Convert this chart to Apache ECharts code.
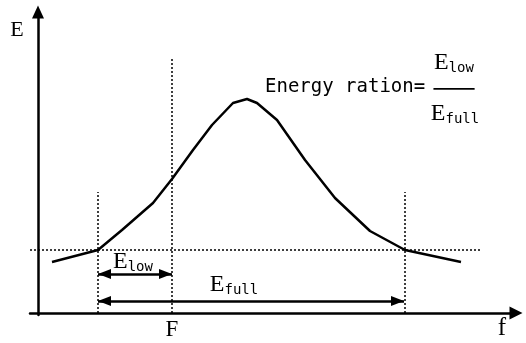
<!DOCTYPE html>
<html>
<head>
<meta charset="utf-8">
<script src="https://cdn.jsdelivr.net/npm/echarts@6/dist/echarts.min.js"></script>
<style>
html,body{margin:0;padding:0;background:#fff}
#main{width:526px;height:343px}
</style>
</head>
<body>
<div id="main"></div>
<script>
// energy spectrum, arbitrary units (x = frequency, y = energy)
const freq = [14, 60, 84, 115, 134, 155, 174, 195, 209, 219, 239, 267, 297, 332, 367, 423]
const energy = [51, 63, 83, 110, 134, 163, 188, 210, 214, 210, 193, 153, 115, 82, 63, 51]

// dotted guides: cut frequencies and how high each guide goes
const guideX = [60, 134, 367]
const guideTop = [121, 256, 121]
const level = 63          // energy level of the horizontal guide
const levelRange = [-8, 442]

const cutF = 134          // "F"
// arrows: [from, to, height]
const lowSpan = [60, 134, 39]
const fullSpan = [60, 366, 12]

const black = '#000'
const serif = 'Liberation Serif'
const mono = 'DejaVu Sans Mono'

let chartDom = document.getElementById('main')
let myChart = echarts.init(chartDom)

const dotted = { color: black, width: 1.5, type: [2, 2] }

let guideSeries = guideX.map((x, i) => ({
  type: 'line',
  silent: true,
  symbol: 'none',
  data: [[x, 0], [x, guideTop[i]]],
  lineStyle: dotted,
  z: 1
}))
guideSeries.push({
  type: 'line',
  silent: true,
  symbol: 'none',
  data: [[levelRange[0], level], [levelRange[1], level]],
  lineStyle: dotted,
  z: 1
})

const eLabel = (sub, x, y) => ({
  type: 'text',
  x: x, y: y,
  style: {
    text: '{e|E}{s|' + sub + '}',
    align: 'center',
    verticalAlign: 'middle',
    rich: {
      e: { fontFamily: serif, fontSize: 24, color: black, verticalAlign: 'bottom', lineHeight: 24 },
      s: { fontFamily: mono, fontSize: 14, color: black, verticalAlign: 'bottom', lineHeight: 19 }
    }
  }
})

let option = {
  animation: false,
  grid: { left: 30, right: 10, top: 12, bottom: 28 },
  xAxis: {
    type: 'value',
    min: -8,
    max: 478,
    splitLine: { show: false },
    axisTick: { show: false },
    axisLine: {
      onZero: true,
      symbol: ['none', 'triangle'],
      symbolSize: [13, 13],
      lineStyle: { color: black, width: 2.5 }
    },
    axisLabel: {
      customValues: [cutF],
      formatter: () => 'F',
      fontFamily: serif,
      fontSize: 23,
      color: black,
      margin: 3
    }
  },
  yAxis: {
    type: 'value',
    min: -2,
    max: 301,
    splitLine: { show: false },
    axisTick: { show: false },
    axisLabel: { show: false },
    axisLine: {
      onZero: true,
      symbol: ['none', 'triangle'],
      symbolSize: [12, 13],
      lineStyle: { color: black, width: 2.5 }
    }
  },
  series: [
    ...guideSeries,
    {
      type: 'line',
      silent: true,
      symbol: 'none',
      data: freq.map((f, i) => [f, energy[i]]),
      lineStyle: { color: black, width: 2.5 },
      z: 3,
      markLine: {
        silent: true,
        symbol: ['triangle', 'triangle'],
        symbolSize: [10, 13],
        symbolOffset: [[0, 6.5], [0, 6.5]],
        label: { show: false },
        lineStyle: { color: black, width: 2.5, type: 'solid' },
        data: [
          [{ coord: [lowSpan[0], lowSpan[2]] }, { coord: [lowSpan[1], lowSpan[2]] }],
          [{ coord: [fullSpan[0], fullSpan[2]] }, { coord: [fullSpan[1], fullSpan[2]] }]
        ]
      }
    }
  ],
  graphic: [
    { type: 'text', x: 17, y: 30, style: { text: 'E', fontFamily: serif, fontSize: 22, fill: black, align: 'center', verticalAlign: 'middle' } },
    { type: 'text', x: 502, y: 328, style: { text: 'f', fontFamily: serif, fontSize: 25, fill: black, align: 'center', verticalAlign: 'middle' } },
    { type: 'text', x: 265, y: 87, style: { text: 'Energy ration=', fontFamily: mono, fontSize: 19, fill: black, align: 'left', verticalAlign: 'middle' } },
    eLabel('low', 454, 63),
    { type: 'text', x: 454, y: 86, style: { text: '——', fontFamily: 'Noto Sans CJK SC', fontSize: 26, fill: black, align: 'center', verticalAlign: 'middle' } },
    eLabel('full', 455, 114),
    eLabel('low', 133, 262),
    eLabel('full', 234, 285)
  ]
}
myChart.setOption(option)
</script>
</body>
</html>
